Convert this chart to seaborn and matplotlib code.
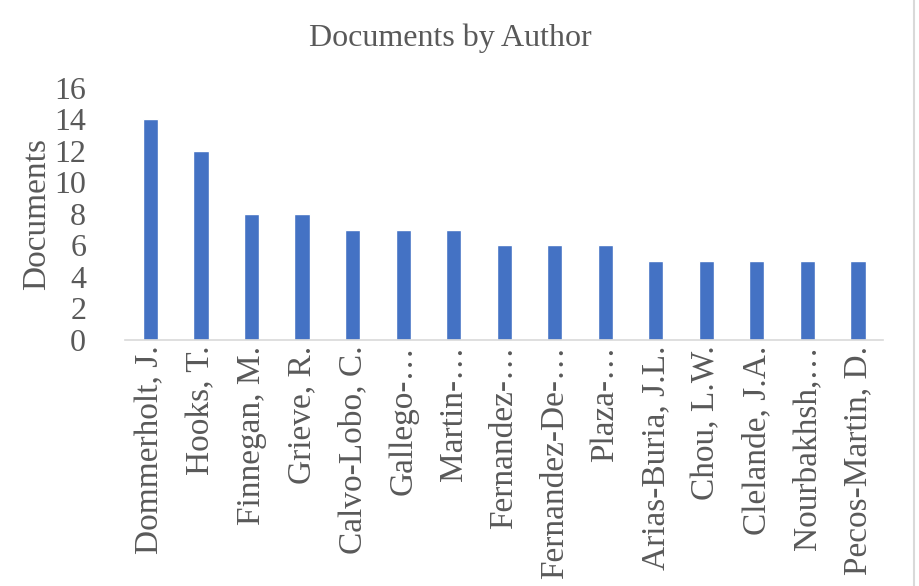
import matplotlib
matplotlib.use("Agg")
import matplotlib.pyplot as plt
import seaborn as sns
import pandas as pd

# Daten aus der Vorlage
authors = ["Dommerholt, J.", "Hooks, T.", "Finnegan, M.", "Grieve, R.",
           "Calvo-Lobo, C.", "Gallego-…", "Martin-…", "Fernandez-…",
           "Fernandez-De-…", "Plaza-…", "Arias-Buria, J.L.", "Chou, L.W.",
           "Clelande, J.A.", "Nourbakhsh,…", "Pecos-Martin, D."]
documents = [14, 12, 8, 8, 7, 7, 7, 6, 6, 6, 5, 5, 5, 5, 5]

df = pd.DataFrame({"author": authors, "documents": documents})

sns.set_theme(style="white")
plt.rcParams['font.family'] = ['Liberation Serif', 'DejaVu Serif']
text_col = "#595959"

fig = plt.figure(figsize=(9.2, 5.86), dpi=100)
ax = fig.add_axes([0.136, 0.42, 0.824, 0.43])

sns.barplot(data=df, x="author", y="documents", color="#4472C4",
            saturation=1, width=0.3, ax=ax)

ax.set_ylim(0, 16)
ax.set_yticks(range(0, 17, 2))
ax.set_xlim(-0.5, len(authors) - 0.5)
ax.tick_params(axis="x", length=0, labelsize=24, colors=text_col, pad=4)
ax.tick_params(axis="y", length=0, labelsize=23, colors=text_col, pad=28)
plt.setp(ax.get_xticklabels(), rotation=90)

ax.set_xlabel("")
ax.set_ylabel("Documents", fontsize=24, color=text_col, labelpad=2)
fig.suptitle("Documents by Author", fontsize=23, color=text_col,
             x=0.49, y=0.935, va="center")

for s in ["top", "right", "left"]:
    ax.spines[s].set_visible(False)
ax.spines["bottom"].set_color("#D9D9D9")
ax.spines["bottom"].set_linewidth(1.2)

# Rahmenlinie rechts
fig.add_artist(plt.Line2D([0.993, 0.993], [0, 1], color="#D9D9D9", lw=1.5,
                          transform=fig.transFigure))

fig.savefig("out.png", dpi=100)
